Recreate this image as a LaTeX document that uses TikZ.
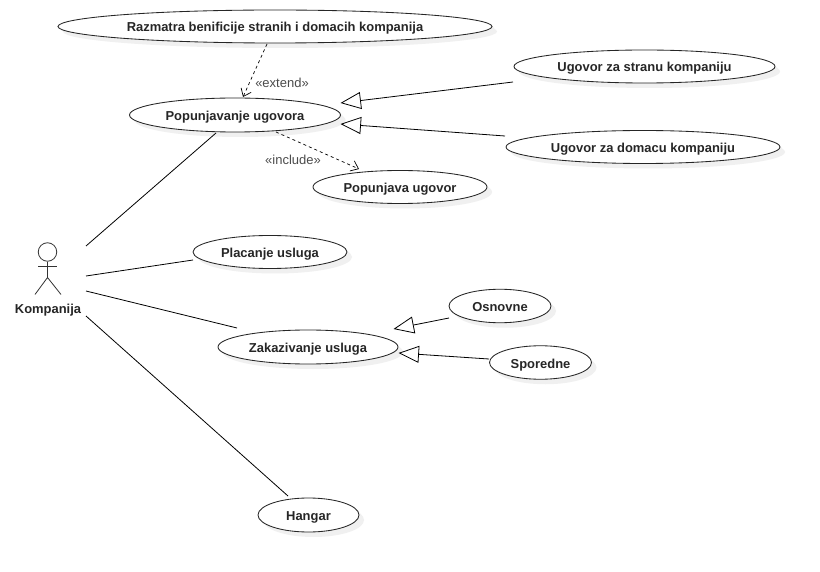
\documentclass[tikz,border=0pt]{standalone}
\usepackage{fontspec}
\setmainfont{Liberation Sans}
\usetikzlibrary{shapes.geometric,arrows.meta,shadows}
\tikzset{
  x=1pt,y=-1pt,
  usecase/.style={ellipse,draw=black!85,line width=0.85pt,fill=white,inner sep=0pt,
    font=\fontsize{12.95}{14}\selectfont\bfseries,text=black!85,text height=11pt,text depth=0pt,
    double copy shadow={shadow xshift=2.5pt,shadow yshift=-2.5pt,opacity=1,fill=black!6,draw=none}},
  assoc/.style={draw=black,line width=0.8pt},
  gener/.style={draw=black,line width=0.8pt,-{Triangle[open,length=20.5pt,width=17pt,fill=white]}},
  dep/.style={draw=black,line width=0.7pt,dashed,dash pattern=on 3pt off 3pt,-{Straight Barb[length=7pt,width=11pt]}},
  stereo/.style={font=\fontsize{13}{14}\selectfont,text=black!70,inner sep=0pt},
  actorlabel/.style={font=\fontsize{12.95}{14}\selectfont\bfseries,text=black!85,inner sep=0pt},
  actorline/.style={draw=black!80,line width=0.8pt}
}
\begin{document}
\begin{tikzpicture}
\useasboundingbox (0,0) rectangle (820,572);
\fill[white] (0,0) rectangle (820,572);
\node[usecase,minimum width=434pt,minimum height=33pt] (raz) at (275,26.5) {Razmatra benificije stranih i domacih kompanija};
\node[usecase,minimum width=211pt,minimum height=34pt] (pop) at (235,115) {Popunjavanje ugovora};
\node[usecase,minimum width=174pt,minimum height=33pt] (pu) at (400,187) {Popunjava ugovor};
\node[usecase,minimum width=261pt,minimum height=33pt] (us) at (644.5,66.5) {Ugovor za stranu kompaniju};
\node[usecase,minimum width=274pt,minimum height=33pt] (ud) at (643,147) {Ugovor za domacu kompaniju};
\node[usecase,minimum width=154pt,minimum height=33pt] (pl) at (270,252) {Placanje usluga};
\node[usecase,minimum width=180pt,minimum height=34pt] (za) at (308,347) {Zakazivanje usluga};
\node[usecase,minimum width=102pt,minimum height=33.5pt] (os) at (500,306) {Osnovne};
\node[usecase,minimum width=102pt,minimum height=33.5pt] (sp) at (540.5,362.5) {Sporedne};
\node[usecase,minimum width=101pt,minimum height=34pt] (ha) at (308.5,515) {Hangar};
% actor
\node[circle,actorline,minimum size=18.5pt,inner sep=0pt] (head) at (47.5,252) {};
\coordinate (hip) at (47.5,277.5);
\coordinate (armL) at (38,266.5);
\coordinate (armR) at (57,266.5);
\coordinate (legL) at (35,294.5);
\coordinate (legR) at (61,294.5);
\draw[actorline] (head.south) -- (hip);
\draw[actorline] (armL) -- (armR);
\draw[actorline] (legL) -- (hip) -- (legR);
\node[actorlabel] (act) at (48,309.7) {Kompanija};
% association ends
\coordinate (a1) at (86,246); \coordinate (e1) at (216,133);
\coordinate (a2) at (86,276); \coordinate (e2) at (193,260);
\coordinate (a3) at (86,291); \coordinate (e3) at (237,328);
\coordinate (a4) at (86,316); \coordinate (e4) at (288,496);
\draw[assoc] (a1) -- (e1);
\draw[assoc] (a2) -- (e2);
\draw[assoc] (a3) -- (e3);
\draw[assoc] (a4) -- (e4);
% generalisations
\coordinate (g1s) at (513,82);  \coordinate (g1t) at (340.5,103);
\coordinate (g2s) at (505,136); \coordinate (g2t) at (340.5,124);
\coordinate (g3s) at (449,318); \coordinate (g3t) at (393.5,329);
\coordinate (g4s) at (489,359); \coordinate (g4t) at (398.5,353);
\draw[gener] (g1s) -- (g1t);
\draw[gener] (g2s) -- (g2t);
\draw[gener] (g3s) -- (g3t);
\draw[gener] (g4s) -- (g4t);
% dependencies
\coordinate (d1s) at (267,44);  \coordinate (d1t) at (243,97);
\coordinate (d2s) at (276,132); \coordinate (d2t) at (359,169);
\draw[dep] (d1s) -- (d1t);
\draw[dep] (d2s) -- (d2t);
\node[stereo] (ext) at (282,83) {«extend»};
\node[stereo] (inc) at (293,160) {«include»};
\end{tikzpicture}
\end{document}
